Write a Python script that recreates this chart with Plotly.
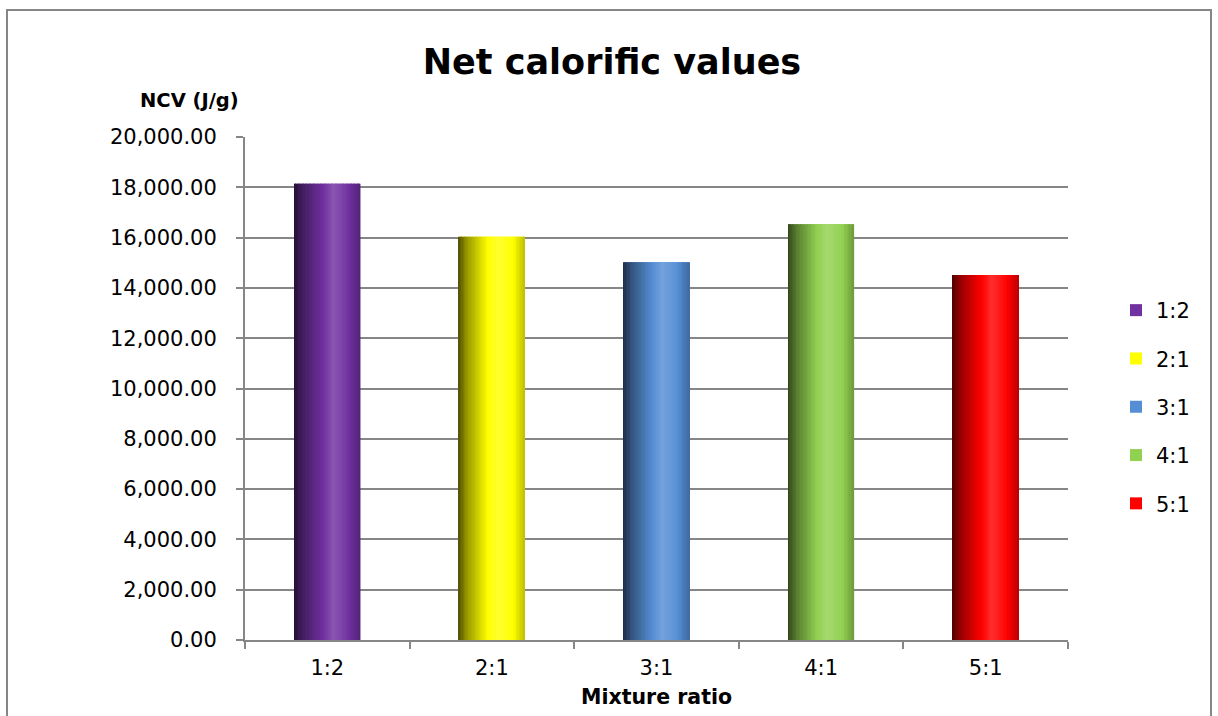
import plotly.graph_objects as go

# Net calorific value (J/g) for each mixture ratio
ratios = ["1:2", "2:1", "3:1", "4:1", "5:1"]
ncv = [18140, 16030, 15020, 16530, 14510]
colors = ["#7030A0", "#FFFF00", "#558ED5", "#92D050", "#FF0000"]
y_ticks = [0, 2000, 4000, 6000, 8000, 10000, 12000, 14000, 16000, 18000, 20000]

W, H = 1218, 716
L, R, T, B = 245, 150, 137, 76
PW, PH = W - L - R, H - T - B

BAR_W = 0.4
N_SLICES = 48
# shading profile across a bar: (position, amount) ; <0 darkens, >0 lightens
PROFILE = [(0.0, -0.68), (0.12, -0.42), (0.35, -0.12), (0.6, 0.18), (0.82, 0.02), (1.0, -0.25)]


def hex_rgb(h):
    h = h.lstrip("#")
    return [int(h[i:i + 2], 16) for i in (0, 2, 4)]


def shade_amount(t):
    for (t0, a0), (t1, a1) in zip(PROFILE, PROFILE[1:]):
        if t0 <= t <= t1:
            return a0 + (a1 - a0) * (t - t0) / (t1 - t0)
    return 0.0


def shaded(base, t):
    rgb = hex_rgb(base)
    a = shade_amount(t)
    if a < 0:
        out = [c * (1 + a) for c in rgb]
    else:
        out = [c + (255 - c) * a for c in rgb]
    return "rgb(%d,%d,%d)" % tuple(max(0, min(255, round(v))) for v in out)


fig = go.Figure()

for cat, val, col in zip(ratios, ncv, colors):
    # flat bar carrying the legend entry
    fig.add_trace(go.Bar(
        x=[cat], y=[val], name=cat, width=BAR_W, legendgroup=cat,
        marker=dict(color=col, line=dict(width=0)),
        showlegend=True,
    ))
    # cylindrical shading drawn as thin vertical strips of the same bar
    step = BAR_W / N_SLICES
    fig.add_trace(go.Bar(
        x=[cat] * N_SLICES,
        y=[val] * N_SLICES,
        offset=[-BAR_W / 2 + i * step for i in range(N_SLICES)],
        width=[step * 1.08] * N_SLICES,
        marker=dict(color=[shaded(col, (i + 0.5) / N_SLICES) for i in range(N_SLICES)],
                    line=dict(width=0)),
        showlegend=False, hoverinfo="skip", legendgroup=cat,
    ))

fig.update_layout(
    width=W, height=H,
    margin=dict(l=L, r=R, t=T, b=B, autoexpand=False),
    paper_bgcolor="white", plot_bgcolor="white",
    barmode="overlay", bargap=0.6,
    font=dict(family="DejaVu Sans", size=21, color="black"),
    title=dict(text="<b>Net calorific values</b>", xref="container", yref="container",
               x=612 / W, y=1 - 62 / H, xanchor="center", yanchor="middle",
               font=dict(family="DejaVu Sans", size=35, color="black")),
    legend=dict(x=(1116 - L) / PW, y=1 - (290 - T) / PH, xanchor="left", yanchor="top",
                font=dict(size=21), tracegroupgap=18, itemwidth=30,
                bgcolor="rgba(0,0,0,0)"),
    showlegend=True,
)

fig.update_xaxes(
    type="category", categoryorder="array", categoryarray=ratios,
    showline=True, linecolor="#868686", linewidth=2,
    ticks="outside", tickson="boundaries", ticklen=7, tickcolor="#868686", tickwidth=2,
    tickfont=dict(size=21), showgrid=False, ticklabelstandoff=8,
)
fig.update_yaxes(
    range=[0, 20000], tickvals=y_ticks, tickformat=",.2f",
    showline=True, linecolor="#868686", linewidth=2,
    ticks="outside", ticklen=7, tickcolor="#868686", tickwidth=2,
    showgrid=True, gridcolor="#868686", gridwidth=2, zeroline=False,
    tickfont=dict(size=21), ticklabelstandoff=15,
)

# axis titles
fig.add_annotation(text="<b>NCV (J/g)</b>", xref="paper", yref="paper",
                   x=(189 - L) / PW, y=1 + (T - 101) / PH, showarrow=False,
                   xanchor="center", yanchor="middle", font=dict(size=19.5))
fig.add_annotation(text="<b>Mixture ratio</b>", xref="paper", yref="paper",
                   x=0.5, y=-(697 - (T + PH)) / PH, showarrow=False,
                   xanchor="center", yanchor="middle", font=dict(size=20.5))

# chart frame
fig.add_shape(type="rect", xref="paper", yref="paper",
              x0=(7 - L) / PW, x1=(1211 - L) / PW,
              y0=-(730 - (T + PH)) / PH, y1=1 + (T - 10) / PH,
              line=dict(color="#868686", width=2), fillcolor="rgba(0,0,0,0)", layer="below")

fig.write_html("out.html")
